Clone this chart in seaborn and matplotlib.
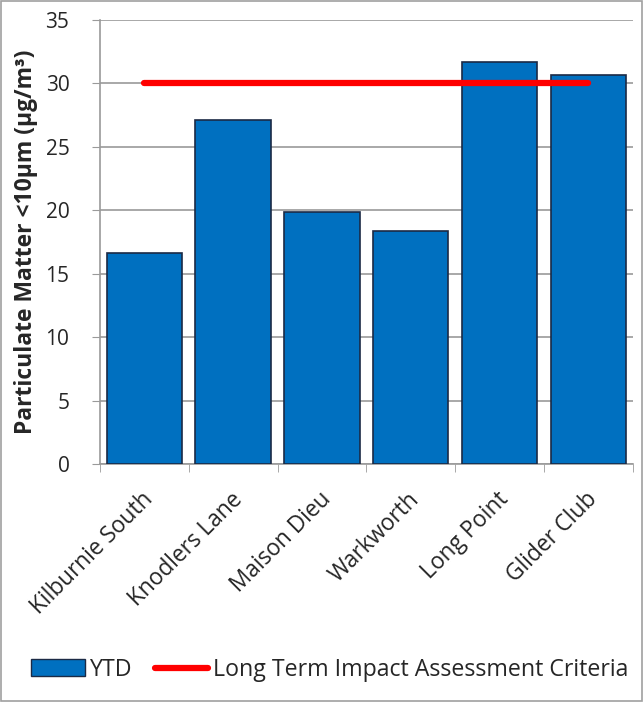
import numpy as np
import pandas as pd
import matplotlib
matplotlib.use("Agg")
import matplotlib.pyplot as plt
import seaborn as sns
from matplotlib.patches import Patch
from matplotlib.lines import Line2D
from matplotlib.transforms import ScaledTranslation

# ── DATA ────────────────────────────────────────────────────
sites = ["Kilburnie South", "Knodlers Lane", "Maison Dieu", "Warkworth", "Long Point", "Glider Club"]
ytd = [16.6, 27.1, 19.9, 18.4, 31.7, 30.7]
criteria = [30, 30, 30, 30, 30, 30]

df = pd.DataFrame({"site": sites, "ytd": ytd, "criteria": criteria})

# ── STYLE ───────────────────────────────────────────────────
sns.set_style("white")
plt.rcParams["font.family"] = ["Open Sans", "DejaVu Sans"]

fig = plt.figure(figsize=(6.43, 7.02), dpi=100)
ax = fig.add_axes([0.1555, 0.339, 0.8285, 0.6325])

sns.barplot(data=df, x="site", y="ytd", color="#0070C0", saturation=1,
            width=0.85, edgecolor="#1B2A45", linewidth=1.2, ax=ax, zorder=3)
ax.plot(np.arange(len(sites)), df["criteria"], color="#FF0000", lw=4.5,
        solid_capstyle="round", zorder=4)

ax.set_ylim(0, 35)
ax.set_yticks(range(0, 36, 5))
ax.set_xlim(-0.5, len(sites) - 0.5)
ax.yaxis.grid(True, color="#9A9A9A", lw=1.2, zorder=0)
ax.set_axisbelow(True)

for s in ["top", "right"]:
    ax.spines[s].set_visible(False)
for s in ["left", "bottom"]:
    ax.spines[s].set_color("#9A9A9A")
    ax.spines[s].set_linewidth(1.2)

ax.tick_params(axis="y", left=True, length=6, color="#9A9A9A",
               labelsize=15, pad=16)
ax.tick_params(axis="x", which="major", length=0, labelsize=16.3, pad=17)
ax.set_xticks(np.arange(-0.5, len(sites)), minor=True)
ax.tick_params(axis="x", which="minor", bottom=True, length=6, color="#9A9A9A")
shift = ScaledTranslation(-3 / 100, 0, fig.dpi_scale_trans)
for lbl in ax.get_xticklabels():
    lbl.set_rotation(45)
    lbl.set_ha("right")
    lbl.set_rotation_mode("anchor")
    lbl.set_transform(lbl.get_transform() + shift)

ax.set_xlabel("")
ax.set_ylabel("Particulate Matter <10µm (µg/m³)", fontsize=16.5, fontweight="bold")
ax.yaxis.set_label_coords(-0.116, 0.5)

handles = [Patch(facecolor="#0070C0", edgecolor="#1B2A45", label="YTD"),
           Line2D([0], [0], color="#FF0000", lw=4.5, solid_capstyle="round",
                  label="Long Term Impact Assessment Criteria")]
fig.legend(handles=handles, loc="center", bbox_to_anchor=(0.513, 0.046), ncol=2,
           frameon=False, fontsize=16.7, handlelength=2.3, handletextpad=0.2,
           columnspacing=1.0)

fig.patches.append(plt.Rectangle((0.002, 0.002), 0.996, 0.996, transform=fig.transFigure,
                                 fill=False, edgecolor="#A0A0A0", lw=1.2))

plt.savefig("out.png", dpi=100)
